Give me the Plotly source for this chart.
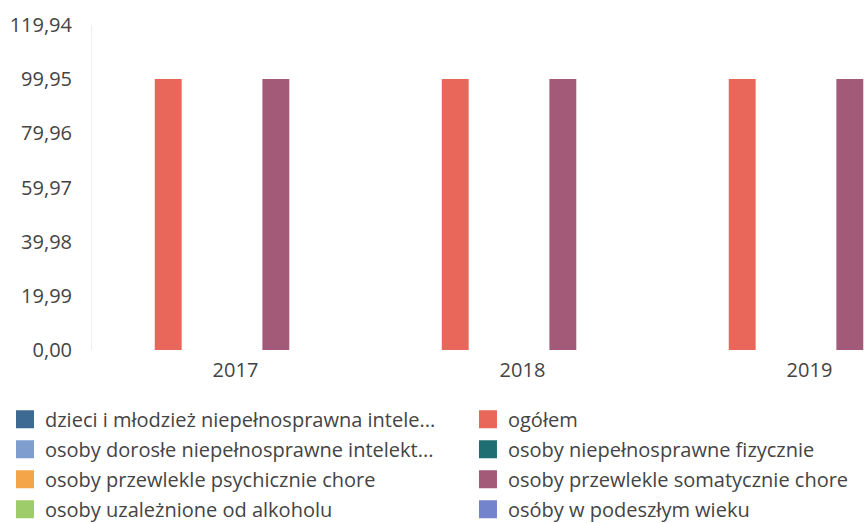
import plotly.graph_objects as go

years = ["2017", "2018", "2019"]

series_names = [
    "dzieci i młodzież niepełnosprawna intele...",
    "ogółem",
    "osoby dorosłe niepełnosprawne intelekt...",
    "osoby niepełnosprawne fizycznie",
    "osoby przewlekle psychicznie chore",
    "osoby przewlekle somatycznie chore",
    "osoby uzależnione od alkoholu",
    "osóby w podeszłym wieku",
]

dzieci = [None, None, None]
ogolem = [100, 100, 100]
dorosle = [None, None, None]
fizycznie = [None, None, None]
psychicznie = [None, None, None]
somatycznie = [100, 100, 100]
alkohol = [None, None, None]
podeszly = [None, None, None]

series_values = [dzieci, ogolem, dorosle, fizycznie, psychicznie, somatycznie, alkohol, podeszly]

colors = ["#3d6a92", "#e8675a", "#809dcf", "#1f6e72", "#f4a54a", "#a35a78", "#9fcc6b", "#7484cc"]

# legend column assignment (left column / right column, as in the reference)
legend_column = ["legend", "legend2", "legend", "legend2", "legend", "legend2", "legend", "legend2"]

tick_vals = [0, 19.99, 39.98, 59.97, 79.96, 99.95, 119.94]
tick_text = ["0,00", "19,99", "39,98", "59,97", "79,96", "99,95", "119,94"]

fig = go.Figure()
for name, vals, col in zip(series_names, series_values, colors):
    fig.add_trace(go.Bar(x=years, y=vals, name=name, showlegend=False,
                         marker=dict(color=col, line=dict(width=0))))

# legend entries (square swatches)
for name, col, lg in zip(series_names, colors, legend_column):
    fig.add_trace(go.Scatter(x=[None], y=[None], mode="markers", name=name, legend=lg,
                             legendgroup=name, showlegend=True, hoverinfo="skip",
                             marker=dict(symbol="square", size=16, color=col,
                                         line=dict(width=2, color=col))))

legend_font = dict(family="Open Sans", size=20, color="#444444")

fig.update_layout(
    width=864, height=540,
    margin=dict(l=92, r=0, t=25, b=190),
    barmode="group", bargap=0.25, bargroupgap=0,
    plot_bgcolor="white", paper_bgcolor="white",
    font=dict(family="Open Sans", size=20, color="#444444"),
    showlegend=True,
    legend=dict(orientation="v", x=-0.1127, xanchor="left", y=-0.153, yanchor="top",
                font=legend_font, bgcolor="rgba(0,0,0,0)", traceorder="grouped",
                tracegroupgap=1),
    legend2=dict(orientation="v", x=0.487, xanchor="left", y=-0.153, yanchor="top",
                 font=legend_font, bgcolor="rgba(0,0,0,0)", traceorder="grouped",
                 tracegroupgap=1),
    xaxis=dict(range=[-0.5, 2.19], showgrid=False, zeroline=False, showline=False,
               ticks="", automargin=False, ticklabelstandoff=6,
               tickfont=dict(size=20, color="#444444")),
    yaxis=dict(range=[0, 119.94], tickvals=tick_vals, ticktext=tick_text, showgrid=False,
               zeroline=False, showline=True, linecolor="#eeeeee", linewidth=1,
               ticks="", automargin=False, ticklabelstandoff=15,
               tickfont=dict(size=20, color="#444444")),
)

fig.write_html("out.html", config={"displayModeBar": False},
               post_script="document.body.style.margin='0';")
